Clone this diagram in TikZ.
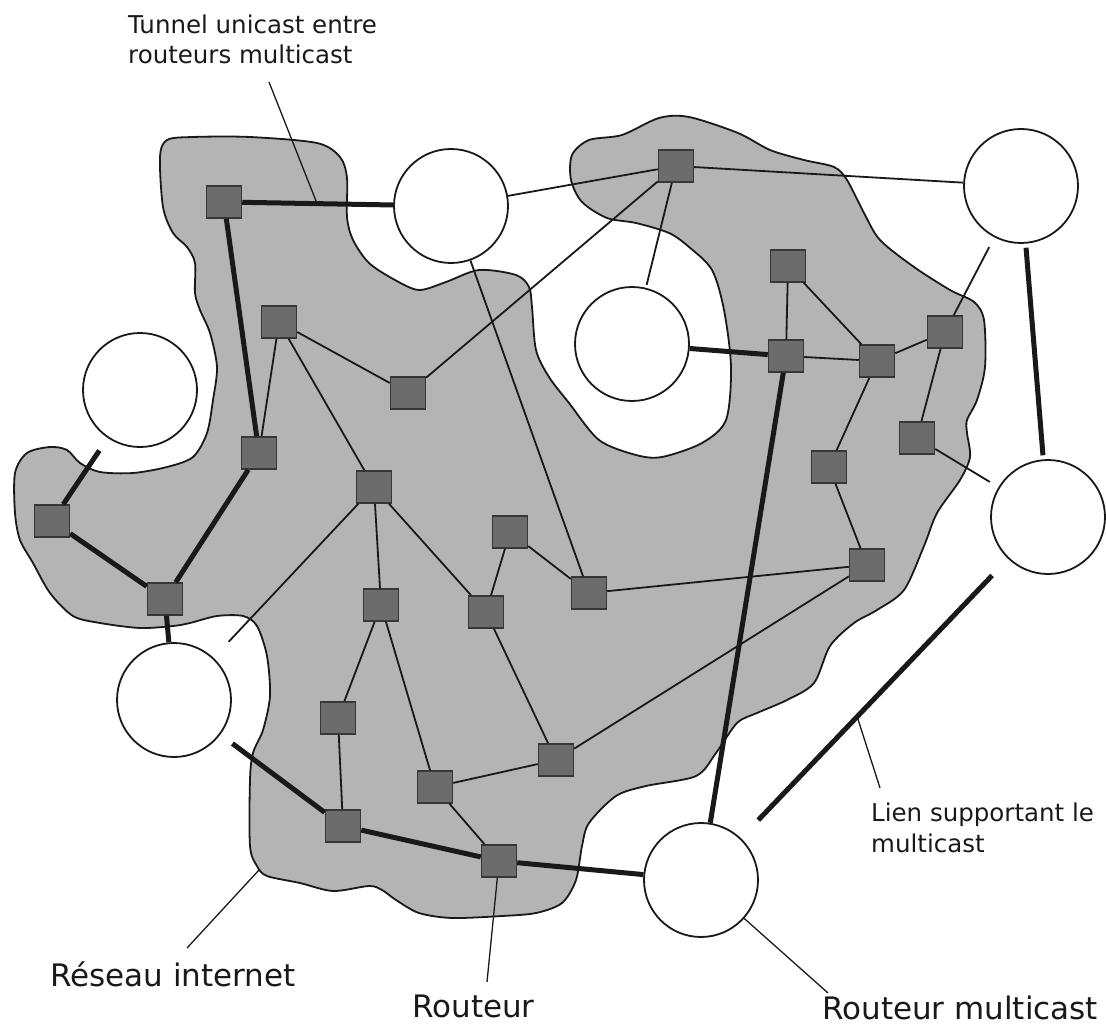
\documentclass[tikz,border=0pt]{standalone}
\usepackage{fontspec}
\setmainfont{DejaVu Sans}
\usetikzlibrary{calc}
\definecolor{netgray}{RGB}{180,180,180}
\definecolor{routerfill}{RGB}{108,108,108}
\definecolor{routerline}{RGB}{55,55,55}
\definecolor{ink}{RGB}{25,25,25}

\begin{document}
\begin{tikzpicture}[x=1pt,y=-1pt,
  router/.style={draw=routerline, line width=1.5pt, fill=routerfill,
    minimum width=35pt, minimum height=32pt, inner sep=0pt},
  mrouter/.style={circle, draw=ink, line width=1.8pt, fill=white,
    minimum size=114pt, inner sep=0pt},
  link/.style={draw=ink, line width=1.8pt},
  mlink/.style={draw=ink, line width=5pt},
  leader/.style={draw=ink, line width=1.3pt},
  small/.style={inner sep=0pt, anchor=base west, text depth=0pt,
    font=\fontsize{24.5}{29}\selectfont, text=ink},
  big/.style={inner sep=0pt, anchor=base west, text depth=0pt,
    font=\fontsize{31}{36}\selectfont, text=ink},
  cloud/.style={draw=ink, line width=1.8pt, fill=netgray}]

\useasboundingbox (0,0) rectangle (1106,1027);

% the Internet cloud
\draw[cloud] plot[smooth cycle, tension=0.5] coordinates {
  (160,157) (167,140) (193,137) (250,137) (317,143) (340,157) (347,178)
  (347,217) (353,240) (369,263) (395,280) (419,290) (446,282) (479,270)
  (516,275) (529,287) (532,307) (536,350) (549,377) (569,403) (599,440)
  (636,455) (662,457) (702,443) (726,420) (731,367) (724,310) (712,270)
  (689,247) (669,233) (636,223) (607,218) (582,202) (571,180) (572,155)
  (589,140) (622,135) (659,118) (689,117) (738,133) (770,150) (804,160)
  (834,167) (847,180) (864,213) (880,240) (914,267) (950,290) (974,302)
  (984,320) (985,367) (977,400) (967,420) (967,433) (970,457) (960,480)
  (937,513) (924,546) (904,590) (877,610) (854,623) (830,646) (814,683)
  (787,700) (757,713) (737,723) (716,753) (696,776) (646,786) (616,796)
  (589,823) (582,846) (576,880) (562,903) (536,913) (502,916) (452,918)
  (419,913) (396,900) (382,890) (369,886) (333,891) (300,883) (267,876)
  (257,866) (250,846) (250,780) (253,753) (263,730) (270,696) (267,656)
  (257,626) (243,616) (217,616) (190,623) (173,626) (140,628) (100,623)
  (73,616) (50,593) (33,563) (20,540) (15,513) (15,473) (27,453) (50,447)
  (67,450) (80,463) (100,472) (133,473) (167,467) (193,457) (207,433)
  (213,400) (217,367) (210,333) (200,310) (195,293) (195,263) (187,247)
  (173,233) (163,207)};

% multicast routers
\node[mrouter] (C1)  at (451,206) {};
\node[mrouter] (Cc)  at (632,344) {};
\node[mrouter] (Ctr) at (1021,186) {};
\node[mrouter] (Cr)  at (1048,517) {};
\node[mrouter] (Cb)  at (701,880) {};
\node[mrouter] (Cl)  at (140,390) {};
\node[mrouter] (Cll) at (174,700) {};

% ordinary routers
\node[router] (R1)  at (224,202) {};
\node[router] (R2)  at (279,322) {};
\node[router] (R3)  at (408,393) {};
\node[router] (R4)  at (259,453) {};
\node[router] (R5)  at (374,487) {};
\node[router] (L1)  at (52,521) {};
\node[router] (R14) at (165,599) {};
\node[router] (R15) at (381,605) {};
\node[router] (R16) at (486,612) {};
\node[router] (R17) at (510,532) {};
\node[router] (R18) at (589,593) {};
\node[router] (Rm)  at (338,718) {};
\node[router] (Rb1) at (343,826) {};
\node[router] (R20) at (435,787) {};
\node[router] (R19) at (556,760) {};
\node[router] (R21) at (499,861) {};
\node[router] (R12) at (867,565) {};
\node[router] (TR)  at (676,166) {};
\node[router] (R6)  at (788,266) {};
\node[router] (R7)  at (786,356) {};
\node[router] (R8)  at (877,361) {};
\node[router] (R9)  at (945,332) {};
\node[router] (R10) at (917,438) {};
\node[router] (R11) at (829,467) {};

% ordinary links
\draw[link] (C1) -- (TR);
\draw[link] (TR) -- (Ctr);
\draw[link] (TR) -- (R3);
\draw[link, shorten >=3pt] (TR) -- (Cc);
\draw[link] (R2) -- (R4);
\draw[link] (R2) -- (R3);
\draw[link] (R2) -- (R5);
\draw[link] (C1) -- (R18);
\draw[link, shorten >=22pt] (R5) -- (Cll);
\draw[link] (R5) -- (R15);
\draw[link] (R5) -- (R16);
\draw[link] (R15) -- (Rm);
\draw[link] (Rm) -- (Rb1);
\draw[link] (R15) -- (R20);
\draw[link] (R16) -- (R17);
\draw[link] (R17) -- (R18);
\draw[link] (R16) -- (R19);
\draw[link] (R18) -- (R12);
\draw[link] (R19) -- (R12);
\draw[link] (R20) -- (R19);
\draw[link] (R20) -- (R21);
\draw[link] (R6) -- (R7);
\draw[link] (R6) -- (R8);
\draw[link] (R7) -- (R8);
\draw[link] (R8) -- (R9);
\draw[link, shorten >=11pt] (R9) -- (Ctr);
\draw[link] (R9) -- (R10);
\draw[link, shorten >=10pt] (R10) -- (Cr);
\draw[link] (R8) -- (R11);
\draw[link] (R11) -- (R12);

% multicast-capable links and tunnels
\draw[mlink] (R1) -- (C1);
\draw[mlink] (R1) -- (R4);
\draw[mlink] (R4) -- (R14);
\draw[mlink] (L1) -- (R14);
\draw[mlink, shorten <=15pt] (Cl) -- (L1);
\draw[mlink] (R14) -- (Cll);
\draw[mlink, shorten <=15pt] (Cll) -- (Rb1);
\draw[mlink] (Rb1) -- (R21);
\draw[mlink] (R21) -- (Cb);
\draw[mlink] (R7) -- (Cb);
\draw[mlink] (Cc) -- (R7);
\draw[mlink, shorten <=4pt, shorten >=4pt] (Ctr) -- (Cr);
\draw[mlink, shorten <=23pt, shorten >=25pt] (Cr) -- (Cb);

% labels and their leaders
\node[small] (tunA) at (128,34) {Tunnel unicast entre};
\node[small] (tunB) at (128,64) {routeurs multicast};
\coordinate (tuntail) at (269,82);
\coordinate (tunpt) at ($(R1)!0.41!(C1)$);
\draw[leader] (tuntail) -- (tunpt);

\node[small] (lienA) at (871,821) {Lien supportant le};
\node[small] (lienB) at (871,852) {multicast};
\coordinate (lientail) at (880,788);
\coordinate (lienpt) at ($(Cr)!0.55!(Cb)$);
\draw[leader] (lientail) -- (lienpt);

\node[big] (net) at (50,986) {Réseau internet};
\coordinate (nettail) at (187,948);
\coordinate (netpt) at (259,870);
\draw[leader] (nettail) -- (netpt);

\node[big] (rout) at (412,1017) {Routeur};
\coordinate (routtail) at (487,982);
\draw[leader] (routtail) -- (R21);

\node[big] (rmult) at (822,1019) {Routeur multicast};
\coordinate (rmtail) at (828,993);
\draw[leader] (rmtail) -- (Cb);
\end{tikzpicture}
\end{document}
